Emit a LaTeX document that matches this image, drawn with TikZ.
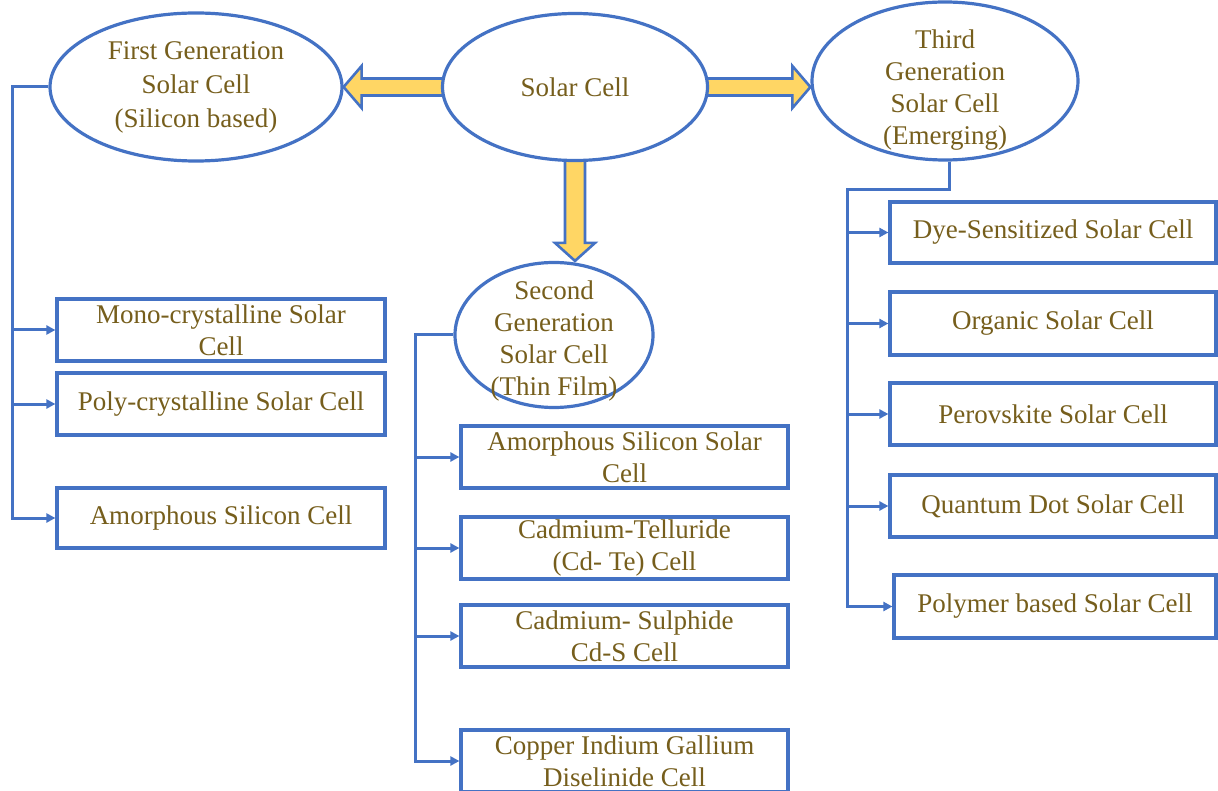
\documentclass[tikz,border=0pt]{standalone}
\usepackage{fontspec}
\setmainfont{Liberation Serif}
\usetikzlibrary{shapes.geometric,arrows.meta,backgrounds}
\definecolor{bblue}{RGB}{68,114,196}
\definecolor{ygold}{RGB}{255,214,100}
\definecolor{tbrown}{RGB}{118,94,28}
\begin{document}
\begin{tikzpicture}[x=1pt,y=-1pt,
  txt/.style={text=tbrown, font=\fontsize{27}{32}\selectfont, align=center, inner sep=0pt},
  box/.style={draw=bblue, line width=3.2pt, fill=white, rectangle, inner sep=0pt, txt},
  ell/.style={draw=bblue, line width=3.2pt, fill=white, ellipse, inner sep=0pt},
  conn/.style={draw=bblue, line width=3pt},
  arr/.style={conn, -{Triangle[length=9pt,width=9pt]}},
  yarrow/.style={draw=bblue, fill=ygold, line width=2.6pt, line join=miter}]
\useasboundingbox (0,0) rectangle (1218,791);

% ellipses
\node[ell, minimum width=292pt, minimum height=148pt] (fg) at (196,87) {};
\node[txt, font=\fontsize{27}{34}\selectfont] (fgt) at (196,87) {First Generation\\Solar Cell\\(Silicon based)};
\node[ell, minimum width=265pt, minimum height=147pt] (sc) at (575,87) {};
\node[txt] (sct) at (575,87) {Solar Cell};
\node[ell, minimum width=266pt, minimum height=158pt] (tg) at (945,81) {};
\node[txt] (tgt) at (945,90) {Third\\Generation\\Solar Cell\\(Emerging)};
\node[ell, minimum width=198pt, minimum height=145pt] (sg) at (554,335) {};
\node[txt] (sgt) at (554,341) {Second\\Generation\\Solar Cell\\(Thin Film)};

% left boxes
\node[box, minimum width=328pt, minimum height=62pt] (mono) at (221,330) {Mono-crystalline Solar\\Cell};
\node[box, minimum width=328pt, minimum height=62pt] (poly) at (221,404) {Poly-crystalline Solar Cell};
\node[box, minimum width=328pt, minimum height=60pt] (amsi) at (221,518) {Amorphous Silicon Cell};

% middle boxes
\node[box, minimum width=327pt, minimum height=62pt] (asi) at (624.5,457) {Amorphous Silicon Solar\\Cell};
\node[box, minimum width=327pt, minimum height=62pt] (cdte) at (624.5,548) {Cadmium-Telluride\\(Cd- Te) Cell};
\node[box, minimum width=327pt, minimum height=62pt] (cds) at (624.5,636) {Cadmium- Sulphide\\Cd-S Cell};
\node[box, minimum width=327pt, minimum height=62pt] (cigs) at (624.5,761) {Copper Indium Gallium\\Diselinide Cell};

% right boxes
\node[box, minimum width=326pt, minimum height=61pt] (dye) at (1053,232.5) {Dye-Sensitized Solar Cell};
\node[box, minimum width=326pt, minimum height=63pt] (org) at (1053,323.5) {Organic Solar Cell};
\node[box, minimum width=326pt, minimum height=62pt] (per) at (1053,414) {Perovskite Solar Cell};
\node[box, minimum width=326pt, minimum height=62pt] (qd) at (1053,506) {Quantum Dot Solar Cell};
\node[box, minimum width=322pt, minimum height=63pt] (pol) at (1055,606.5) {Polymer based Solar Cell};

% trunk coordinates
\coordinate (L) at (12,0);
\coordinate (M) at (415,0);
\coordinate (R) at (847,0);

% left branch
\draw[arr] (fg.west) -- (L |- fg.west) -- (L |- amsi.west) -- (amsi.west);
\draw[arr] (L |- mono.west) -- (mono.west);
\draw[arr] (L |- poly.west) -- (poly.west);

% middle branch
\draw[arr] (sg.west) -- (M |- sg.west) -- (M |- cigs.west) -- (cigs.west);
\draw[arr] (M |- asi.west) -- (asi.west);
\draw[arr] (M |- cdte.west) -- (cdte.west);
\draw[arr] (M |- cds.west) -- (cds.west);

% right branch
\draw[arr] ([xshift=4pt]tg.south) -- ++(0,28) -| (R |- pol.west) -- (pol.west);
\draw[arr] (R |- dye.west) -- (dye.west);
\draw[arr] (R |- org.west) -- (org.west);
\draw[arr] (R |- per.west) -- (per.west);
\draw[arr] (R |- qd.west) -- (qd.west);

% yellow block arrows
\coordinate (T) at (tg.west |- sc.east);
\coordinate (D) at (sc.south |- sg.north);
\begin{pgfonlayer}{background}
\draw[yarrow] ([xshift=10,yshift=8.5]sc.west) -- ([xshift=18,yshift=8.5]fg.east) -- ([xshift=18,yshift=21]fg.east) -- (fg.east) -- ([xshift=18,yshift=-21]fg.east) -- ([xshift=18,yshift=-8.5]fg.east) -- ([xshift=10,yshift=-8.5]sc.west) -- cycle;
\draw[yarrow] ([xshift=-10,yshift=8.5]sc.east) -- ([xshift=-18,yshift=8.5]T) -- ([xshift=-18,yshift=21]T) -- (T) -- ([xshift=-18,yshift=-21]T) -- ([xshift=-18,yshift=-8.5]T) -- ([xshift=-10,yshift=-8.5]sc.east) -- cycle;
\draw[yarrow] ([xshift=-10,yshift=10]sc.south) -- ([xshift=-10,yshift=18]D) -- ([xshift=-20,yshift=18]D) -- (D) -- ([xshift=20,yshift=18]D) -- ([xshift=10,yshift=18]D) -- ([xshift=10,yshift=10]sc.south) -- cycle;
\end{pgfonlayer}
\end{tikzpicture}
\end{document}
